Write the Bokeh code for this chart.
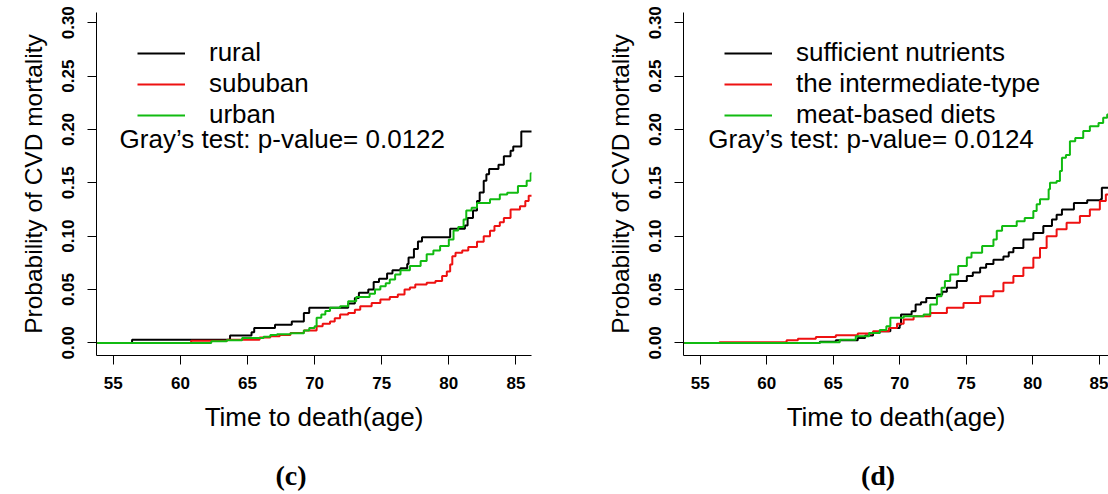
from bokeh.plotting import figure
from bokeh.models import Range1d, FixedTicker, Legend, LegendItem, Label
from bokeh.layouts import row, column
from bokeh.embed import file_html
from bokeh.resources import INLINE

# ---------------- data ----------------
x_ticks = [55, 60, 65, 70, 75, 80, 85]
x_tick_labels = ["55", "60", "65", "70", "75", "80", "85"]
y_ticks = [0.0, 0.05, 0.10, 0.15, 0.20, 0.25, 0.30]
y_tick_labels = ["0.00", "0.05", "0.10", "0.15", "0.20", "0.25", "0.30"]

# panel (c): residence
c_names = ["rural", "sububan", "urban"]
c_rural_age = [53.8, 56.4, 63.7, 65.3, 65.5, 67.05, 68.3, 69.2, 69.6, 72.5, 73.0, 73.3, 74.0,
               74.4, 74.8, 75.4, 75.8, 76.4, 76.9, 77.0, 77.4, 77.7, 78.0, 80.1, 81.2, 81.4,
               81.8, 82.1, 82.3, 82.6, 82.8, 83.0, 83.7, 84.1, 84.6, 84.8, 85.4, 86.2]
c_rural_cif = [0.0, 0.003, 0.007, 0.010, 0.014, 0.017, 0.020, 0.028, 0.033, 0.037, 0.042, 0.047,
               0.050, 0.057, 0.060, 0.065, 0.068, 0.070, 0.074, 0.080, 0.088, 0.095, 0.099, 0.107,
               0.110, 0.117, 0.124, 0.133, 0.141, 0.152, 0.158, 0.163, 0.167, 0.175, 0.180, 0.184,
               0.198, 0.198]
c_sub_age = [53.8, 60.8, 63.5, 65.9, 66.7, 67.4, 68.2, 69.2, 70.15, 70.6, 71.15, 71.5, 71.9, 72.5,
             73.0, 73.4, 74.25, 74.9, 75.6, 76.2, 76.7, 77.1, 77.5, 78.35, 79.0, 79.5, 79.85, 80.1,
             80.26, 80.5, 81.0, 81.45, 82.1, 82.6, 83.07, 83.4, 83.8, 84.1, 84.6, 85.3, 85.7, 85.95,
             86.2]
c_sub_cif = [0.0, 0.002, 0.003, 0.005, 0.0063, 0.0075, 0.0094, 0.0116, 0.0157, 0.018, 0.020, 0.023,
             0.0266, 0.028, 0.031, 0.0344, 0.0375, 0.0407, 0.043, 0.0454, 0.050, 0.052, 0.0548,
             0.0563, 0.058, 0.0626, 0.067, 0.0735, 0.0813, 0.0844, 0.0867, 0.0898, 0.0947, 0.100,
             0.105, 0.1095, 0.113, 0.117, 0.125, 0.128, 0.133, 0.138, 0.138]
c_urb_age = [53.8, 62.3, 63.45, 64.6, 66.2, 66.7, 67.2, 68.2, 69.2, 69.6, 70.0, 70.15, 70.5, 70.8,
             71.15, 71.9, 72.5, 73.1, 74.1, 74.5, 74.9, 75.3, 75.6, 76.0, 76.4, 77.1, 77.9, 78.35,
             78.85, 79.35, 80.0, 80.35, 80.7, 81.1, 81.3, 81.7, 82.1, 83.07, 83.8, 84.35, 85.15,
             85.8, 86.1, 86.2]
c_urb_cif = [0.0, 0.0016, 0.0025, 0.0045, 0.0058, 0.0075, 0.008, 0.009, 0.0116, 0.014, 0.0157,
             0.0235, 0.0266, 0.030, 0.033, 0.0344, 0.039, 0.043, 0.046, 0.050, 0.053, 0.056, 0.0595,
             0.064, 0.068, 0.072, 0.0767, 0.083, 0.0867, 0.0907, 0.097, 0.1054, 0.1085, 0.1157,
             0.124, 0.1266, 0.131, 0.1345, 0.139, 0.1407, 0.147, 0.152, 0.159, 0.159]
c_pvalue = "Gray\u2019s test: p-value= 0.0122"

# panel (d): dietary pattern
d_names = ["sufficient nutrients", "the intermediate-type", "meat-based diets"]
d_suf_age = [53.8, 64.0, 65.2, 66.85, 67.4, 68.0, 68.5, 69.3, 70.0, 70.1, 70.9, 71.2, 71.6, 72.0,
             72.8, 73.2, 73.55, 74.3, 75.05, 75.5, 76.05, 76.5, 77.05, 77.8, 78.2, 78.55, 79.3,
             80.05, 80.8, 81.45, 81.8, 82.2, 83.1, 84.1, 85.1, 85.2, 85.8]
d_suf_cif = [0.0, 0.001, 0.0025, 0.0047, 0.007, 0.0094, 0.011, 0.014, 0.017, 0.0266, 0.0297, 0.036,
             0.038, 0.042, 0.0454, 0.048, 0.0516, 0.058, 0.0626, 0.066, 0.0704, 0.074, 0.078, 0.081,
             0.085, 0.089, 0.097, 0.103, 0.1095, 0.1157, 0.120, 0.125, 0.131, 0.1336, 0.1345,
             0.1454, 0.1454]
d_int_age = [53.8, 56.45, 61.5, 62.35, 63.7, 65.2, 66.85, 68.0, 69.2, 69.8, 70.3, 71.05, 72.3,
             73.55, 74.8, 76.05, 77.05, 77.8, 78.55, 79.3, 80.05, 80.55, 81.05, 81.8, 82.55, 83.55,
             84.3, 85.05, 85.5, 85.8]
d_int_cif = [0.0, 0.0006, 0.0025, 0.0038, 0.0056, 0.0072, 0.0088, 0.011, 0.014, 0.018, 0.022,
             0.025, 0.028, 0.033, 0.0375, 0.0438, 0.0485, 0.0563, 0.0626, 0.0704, 0.0797, 0.089,
             0.100, 0.1064, 0.1126, 0.119, 0.125, 0.133, 0.139, 0.139]
d_meat_age = [53.8, 64.0, 65.5, 66.7, 67.7, 68.5, 69.0, 69.3, 70.3, 71.8, 72.3, 72.8, 73.15, 73.4,
              73.8, 74.4, 75.05, 75.4, 76.2, 77.05, 77.3, 77.7, 78.8, 79.4, 80.05, 80.3, 80.55,
              81.2, 81.3, 81.8, 82.05, 82.2, 82.5, 82.8, 83.2, 83.8, 84.3, 84.95, 85.3, 85.6, 85.8]
d_meat_cif = [0.0, 0.0006, 0.003, 0.0063, 0.0094, 0.012, 0.0157, 0.0235, 0.025, 0.0266, 0.036,
              0.0438, 0.0516, 0.058, 0.064, 0.072, 0.080, 0.0844, 0.0907, 0.097, 0.105, 0.1095,
              0.114, 0.117, 0.1235, 0.130, 0.1345, 0.144, 0.150, 0.1517, 0.161, 0.1735, 0.176,
              0.189, 0.192, 0.1986, 0.203, 0.206, 0.211, 0.214, 0.214]
d_pvalue = "Gray\u2019s test: p-value= 0.0124"

x_title = "Time to death(age)"
y_title = "Probability of CVD mortality"

# ---------------- styling ----------------
FONT = "Liberation Sans"
COLORS = ["#000000", "#EE1111", "#11BB11"]
H_MAIN = 440
H_STRIP = 54


def make_panel(series, names, ptext, width, x_end, border_left, border_right, ptext_x):
    p = figure(width=width, height=H_MAIN, x_range=Range1d(53.75, x_end),
               y_range=Range1d(-0.0118, 0.3096), output_backend="svg",
               toolbar_location=None, title=None,
               min_border_left=border_left, min_border_right=border_right,
               min_border_top=12, min_border_bottom=85)
    p.outline_line_color = None
    p.xgrid.visible = False
    p.ygrid.visible = False
    p.background_fill_color = "white"
    p.border_fill_color = "white"

    items = []
    for (ages, vals), name, col in zip(series, names, COLORS):
        r = p.step(ages, vals, mode="after", line_color=col, line_width=2)
        items.append(LegendItem(label=name, renderers=[r]))

    legend = Legend(items=items, location=(41, 225), orientation="vertical",
                    border_line_color=None, background_fill_alpha=0,
                    padding=0, margin=0, spacing=0,
                    glyph_width=48, glyph_height=30, label_height=30,
                    label_standoff=24, label_text_font=FONT,
                    label_text_font_size="26px", label_text_color="black")
    p.add_layout(legend)

    for ax in (p.xaxis[0], p.yaxis[0]):
        ax.axis_line_color = "black"
        ax.axis_line_width = 1
        ax.major_tick_line_color = "black"
        ax.major_tick_out = 9
        ax.major_tick_in = 0
        ax.minor_tick_line_color = None
        ax.major_label_text_font = FONT
        ax.major_label_text_font_style = "bold"
        ax.major_label_text_font_size = "17px"
        ax.major_label_text_color = "black"
        ax.axis_label_text_font = FONT
        ax.axis_label_text_font_style = "normal"
        ax.axis_label_text_color = "black"

    p.xaxis.ticker = FixedTicker(ticks=x_ticks)
    p.xaxis.major_label_overrides = dict(zip(x_ticks, x_tick_labels))
    p.xaxis.major_label_standoff = 12
    p.xaxis.axis_label = x_title
    p.xaxis.axis_label_text_font_size = "26px"
    p.xaxis.axis_label_standoff = 10

    p.yaxis.ticker = FixedTicker(ticks=y_ticks)
    p.yaxis.major_label_overrides = dict(zip(y_ticks, y_tick_labels))
    p.yaxis.major_label_orientation = "vertical"
    p.yaxis.major_label_standoff = 13
    p.yaxis.axis_label = y_title
    p.yaxis.axis_label_text_font_size = "24.5px"
    p.yaxis.axis_label_standoff = 13

    p.add_layout(Label(x=ptext_x, y=0.1914, text=ptext, text_font=FONT,
                       text_font_size="26px", text_color="black",
                       text_align="left", text_baseline="alphabetic"))
    return p


def make_strip(letter, width, letter_x):
    s = figure(width=width, height=H_STRIP, x_range=Range1d(0, width),
               y_range=Range1d(0, H_STRIP), output_backend="svg",
               toolbar_location=None, title=None,
               x_axis_location=None, y_axis_location=None,
               min_border_left=0, min_border_right=0, min_border_top=0, min_border_bottom=0)
    s.outline_line_color = None
    s.xgrid.visible = False
    s.ygrid.visible = False
    s.background_fill_color = "white"
    s.border_fill_color = "white"
    s.add_layout(Label(x=letter_x, y=19, text=letter, text_font="Liberation Serif",
                       text_font_style="bold", text_font_size="28px", text_color="black",
                       text_align="center", text_baseline="middle"))
    return s


pc = make_panel([(c_rural_age, c_rural_cif), (c_sub_age, c_sub_cif), (c_urb_age, c_urb_cif)],
                c_names, c_pvalue, width=595, x_end=86.16, border_left=96,
                border_right=64, ptext_x=55.47)
pd_ = make_panel([(d_suf_age, d_suf_cif), (d_int_age, d_int_cif), (d_meat_age, d_meat_cif)],
                 d_names, d_pvalue, width=513, x_end=85.7, border_left=88,
                 border_right=0, ptext_x=55.62)
sc = make_strip("(c)", 595, 290.5)
sd = make_strip("(d)", 513, 282.5)

layout = column(row(pc, pd_), row(sc, sd))
open("out.html", "w").write(file_html(layout, INLINE))
